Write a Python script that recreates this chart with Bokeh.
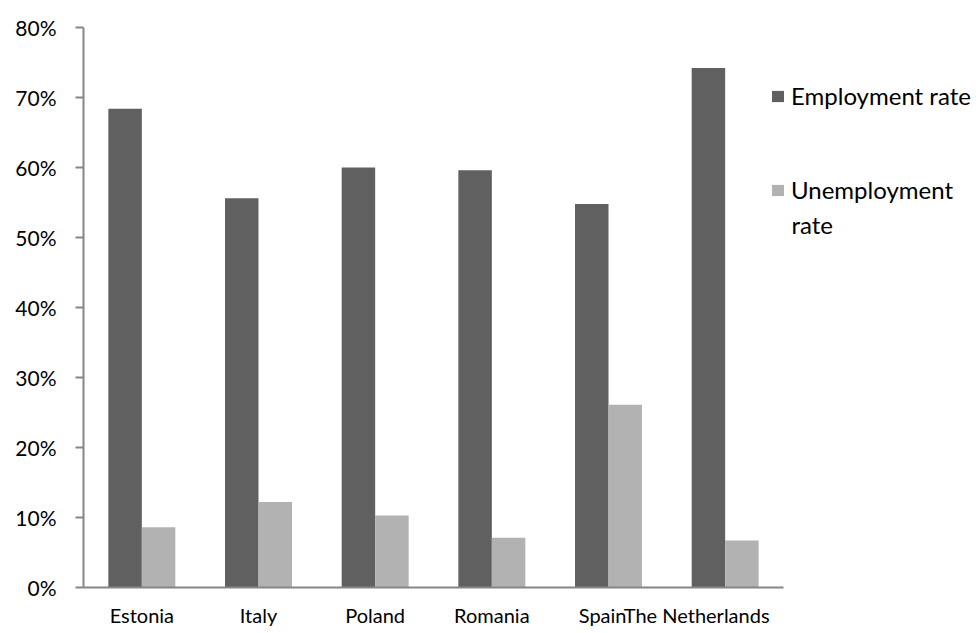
from bokeh.plotting import figure
from bokeh.models import Range1d, FixedTicker, PrintfTickFormatter, Legend, LegendItem, ColumnDataSource, Label
from bokeh.embed import file_html
from bokeh.resources import INLINE

countries = ["Estonia", "Italy", "Poland", "Romania", "Spain", "The Netherlands"]
employment = [68.4, 55.6, 60.0, 59.6, 54.8, 74.2]
unemployment = [8.6, 12.2, 10.3, 7.1, 26.1, 6.7]
y_ticks = [0, 10, 20, 30, 40, 50, 60, 70, 80]

FONT = "Lato"
AXIS_COLOR = "#868686"
BAR_W = 0.287
# horizontal nudge of category labels (style only), as in the reference
LABEL_SHIFT = [0, 0, 0, 0, -0.05, -0.244]

centers = [i + 0.5 for i in range(len(countries))]
label_x = [c + s for c, s in zip(centers, LABEL_SHIFT)]
src = ColumnDataSource(dict(
    x_emp=[c - BAR_W / 2 for c in centers],
    x_unemp=[c + BAR_W / 2 for c in centers],
    emp=employment, unemp=unemployment))

p = figure(width=979, height=633, x_range=Range1d(0, 7.68), y_range=Range1d(0, 80),
           output_backend="svg", toolbar_location=None,
           min_border_left=83, min_border_right=0, min_border_top=27, min_border_bottom=46)
p.outline_line_color = None
p.xgrid.grid_line_color = None
p.ygrid.grid_line_color = None

r1 = p.vbar(x="x_emp", top="emp", width=BAR_W, source=src, fill_color="#606060", line_color=None)
r2 = p.vbar(x="x_unemp", top="unemp", width=BAR_W, source=src, fill_color="#b2b2b2", line_color=None)

p.yaxis.ticker = FixedTicker(ticks=y_ticks)
p.yaxis.formatter = PrintfTickFormatter(format="%d%%")
p.xaxis.ticker = FixedTicker(ticks=label_x)
p.xaxis.major_label_overrides = {x: name for x, name in zip(label_x, countries)}
p.xaxis.bounds = (0, len(countries))
for ax in (p.xaxis, p.yaxis):
    ax.axis_line_color = AXIS_COLOR
    ax.axis_line_width = 2
    ax.major_tick_line_color = AXIS_COLOR
    ax.major_tick_line_width = 2
    ax.minor_tick_line_color = None
    ax.major_label_text_font = FONT
    ax.major_label_text_color = "#000000"
p.yaxis.major_label_text_font_size = "21px"
p.xaxis.major_label_text_font_size = "20px"
p.yaxis.major_tick_out = 8
p.yaxis.major_tick_in = 0
p.yaxis.major_label_standoff = 19
p.xaxis.major_tick_out = 0
p.xaxis.major_tick_in = 0
p.xaxis.major_label_standoff = 15

legend = Legend(items=[LegendItem(label="Employment rate", renderers=[r1]),
                       LegendItem(label="Unemployment", renderers=[r2])],
                location=(687, 383), orientation="vertical")
legend.label_text_font = FONT
legend.label_text_font_size = "24px"
legend.label_text_color = "#000000"
legend.glyph_width = 15
legend.glyph_height = 14
legend.label_standoff = 6
legend.spacing = 65
legend.padding = 0
legend.margin = 0
legend.border_line_color = None
legend.background_fill_alpha = 0
p.add_layout(legend, "center")

p.add_layout(Label(x=708, y=362.7, x_units="screen", y_units="screen", text="rate",
                   text_font=FONT, text_font_size="24px", text_color="#000000",
                   text_baseline="middle", text_align="left"))

open("out.html", "w").write(file_html(p, INLINE))
